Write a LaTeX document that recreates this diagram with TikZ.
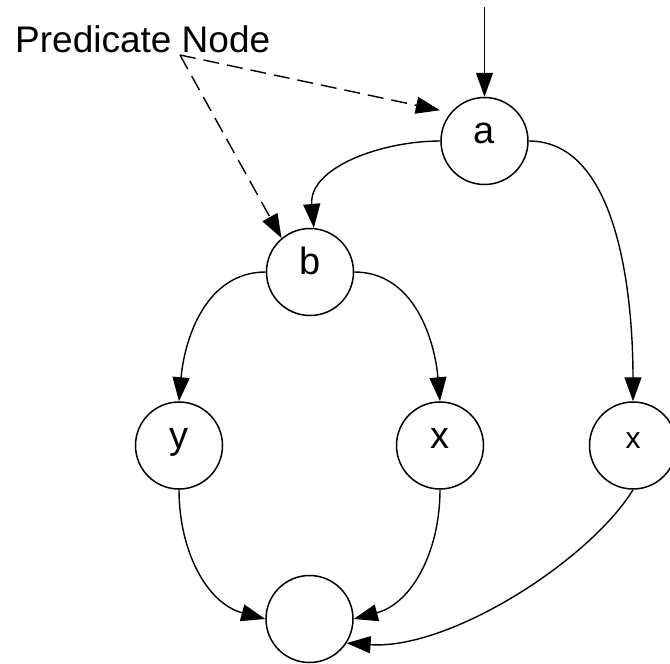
\documentclass[tikz,border=0pt]{standalone}
\usepackage{fontspec}
\setmainfont{Liberation Sans}
\usetikzlibrary{arrows.meta}
\begin{document}
\begin{tikzpicture}[x=1pt,y=1pt,
  state/.style={draw=black, circle, line width=1.5pt, minimum size=87pt, inner sep=0pt,
    font=\fontsize{38}{40}\selectfont, text height=0.52em, text depth=0pt},
  arr/.style={line width=1.4pt, -{Triangle[length=24pt,width=17pt]}},
  dasharr/.style={arr, dash pattern=on 16pt off 8pt}]
\useasboundingbox (0,0) rectangle (670,-664);
\node[anchor=base west, inner sep=0pt, font=\fontsize{37}{40}\selectfont] (lbl) at (15,-52) {Predicate Node};
\coordinate (src) at (180,-55);
\coordinate (topin) at (484.5,-7);
\node[state] (a) at (484.5,-141) {a};
\node[state] (b) at (310,-272) {b};
\node[state] (y) at (179,-445.5) {y};
\node[state] (xm) at (440,-445.5) {x};
\node[state, font=\fontsize{30}{32}\selectfont] (xr) at (633,-445.5) {x};
\node[state] (bot) at (309.5,-619) {};
\draw[arr] (topin) -- (a.north);
\draw[dasharr, shorten >=11pt] (src) -- (a.140);
\draw[dasharr] (src) -- (b.130);
\draw[arr] (a.west) to[out=180,in=95] (b.85);
\draw[arr] (a.east) to[out=0,in=90,looseness=0.85] (xr.north);
\draw[arr] (b.west) to[out=180,in=85] (y.north);
\draw[arr] (b.east) to[out=0,in=95] (xm.north);
\draw[arr] (y.south) to[out=-90,in=165] (bot.west);
\draw[arr] (xm.south) to[out=-90,in=15] (bot.east);
\draw[arr] (xr.south) .. controls (590,-560) and (450,-650) .. (bot.-33);
\end{tikzpicture}
\end{document}
